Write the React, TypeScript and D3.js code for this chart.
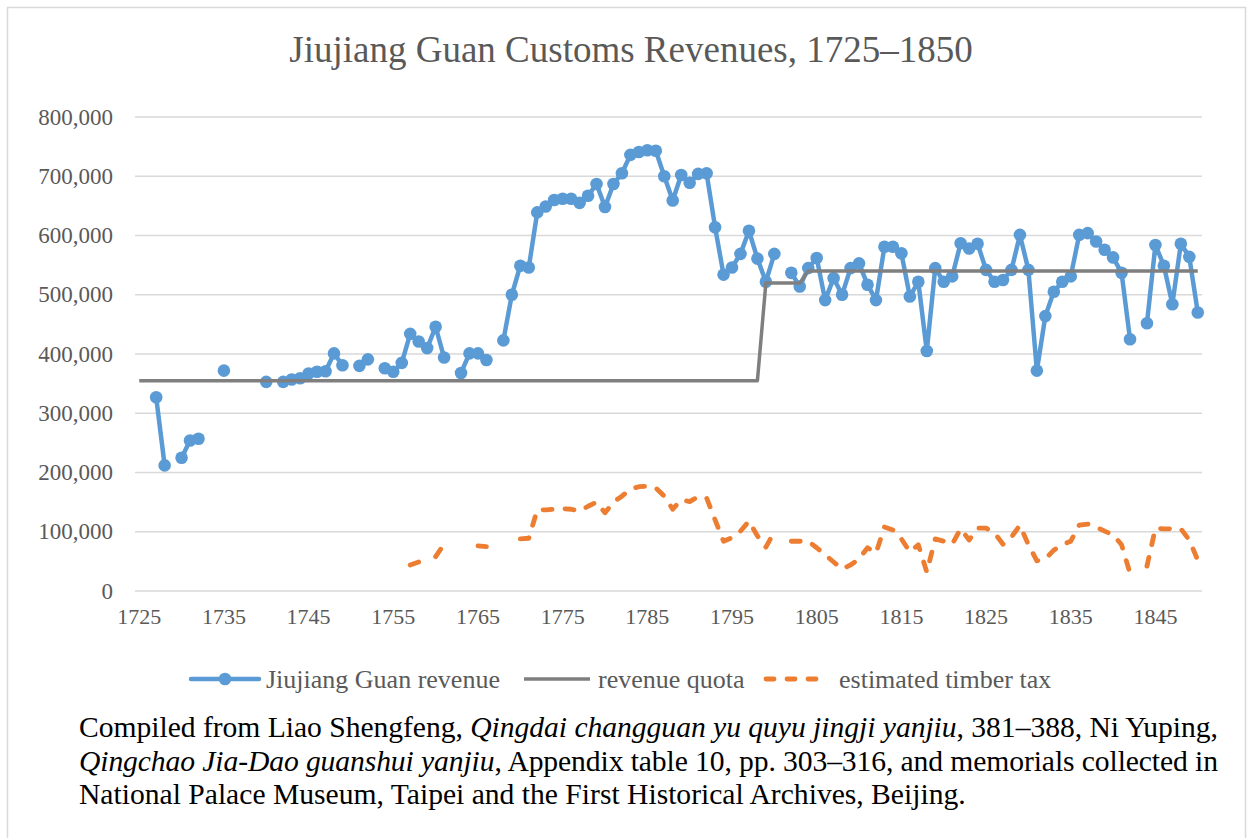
import React from 'react';
import * as d3 from 'd3';

// ---------- data ----------
const years: number[] = d3.range(1725, 1851);
const xTickYears: number[] = [1725, 1735, 1745, 1755, 1765, 1775, 1785, 1795, 1805, 1815, 1825, 1835, 1845];
const yTicks: number[] = [0, 100000, 200000, 300000, 400000, 500000, 600000, 700000, 800000];

// Jiujiang Guan revenue (years absent = no data)
const revenueData: [number, number][] = [
  [1727, 327000], [1728, 212000], [1730, 225000], [1731, 254000], [1732, 257000],
  [1735, 372000], [1740, 353000], [1742, 353000], [1743, 357000], [1744, 359000],
  [1745, 367000], [1746, 370000], [1747, 371000], [1748, 401000], [1749, 381000],
  [1751, 380000], [1752, 391000], [1754, 376000], [1755, 370000], [1756, 385000],
  [1757, 434000], [1758, 421000], [1759, 410000], [1760, 446000], [1761, 394000],
  [1763, 368000], [1764, 401000], [1765, 401000], [1766, 390000], [1768, 423000],
  [1769, 500000], [1770, 549000], [1771, 546000], [1772, 639000], [1773, 649000],
  [1774, 660000], [1775, 662000], [1776, 662000], [1777, 655000], [1778, 667000],
  [1779, 687000], [1780, 648000], [1781, 687000], [1782, 705000], [1783, 736000],
  [1784, 741000], [1785, 744000], [1786, 743000], [1787, 700000], [1788, 659000],
  [1789, 702000], [1790, 689000], [1791, 704000], [1792, 705000], [1793, 614000],
  [1794, 534000], [1795, 546000], [1796, 569000], [1797, 608000], [1798, 561000],
  [1799, 522000], [1800, 569000], [1802, 537000], [1803, 514000], [1804, 545000],
  [1805, 562000], [1806, 491000], [1807, 528000], [1808, 500000], [1809, 545000],
  [1810, 553000], [1811, 517000], [1812, 491000], [1813, 581000], [1814, 581000],
  [1815, 570000], [1816, 497000], [1817, 522000], [1818, 405000], [1819, 545000],
  [1820, 522000], [1821, 531000], [1822, 587000], [1823, 578000], [1824, 586000],
  [1825, 542000], [1826, 522000], [1827, 525000], [1828, 542000], [1829, 601000],
  [1830, 542000], [1831, 372000], [1832, 464000], [1833, 505000], [1834, 522000],
  [1835, 531000], [1836, 601000], [1837, 604000], [1838, 590000], [1839, 576000],
  [1840, 563000], [1841, 537000], [1842, 425000], [1844, 452000], [1845, 584000],
  [1846, 549000], [1847, 484000], [1848, 586000], [1849, 564000], [1850, 470000],
];

// revenue quota, by period
const quotaPeriods: { from: number; to: number; value: number }[] = [
  { from: 1725, to: 1798, value: 355000 },
  { from: 1799, to: 1803, value: 520000 },
  { from: 1804, to: 1850, value: 540000 },
];

// estimated timber tax (years absent = no data)
const timberData: [number, number][] = [
  [1757, 44000], [1758, 49000], [1760, 58000], [1761, 79000], [1765, 76000], [1766, 75000],
  [1770, 88000], [1771, 89000], [1772, 137000], [1773, 137000], [1774, 138000], [1775, 139000],
  [1776, 138000], [1777, 135000], [1778, 143000], [1779, 150000], [1780, 132000], [1781, 150000],
  [1782, 160000], [1783, 172000], [1784, 176000], [1785, 177000], [1786, 174000], [1787, 160000],
  [1788, 138000], [1789, 154000], [1790, 151000], [1791, 159000], [1792, 157000], [1793, 120000],
  [1794, 84000], [1795, 90000], [1796, 101000], [1797, 118000], [1798, 93000], [1799, 74000],
  [1800, 100000], [1802, 84000], [1803, 84000], [1804, 84000], [1805, 73000], [1806, 61000],
  [1807, 49000], [1808, 37000], [1809, 44000], [1810, 54000], [1811, 73000], [1812, 64000],
  [1813, 108000], [1814, 103000], [1815, 88000], [1816, 66000], [1817, 78000], [1818, 32000],
  [1819, 88000], [1820, 84000], [1821, 79000], [1822, 105000], [1823, 86000], [1824, 106000],
  [1825, 106000], [1826, 98000], [1827, 79000], [1828, 91000], [1829, 111000], [1830, 78000],
  [1831, 51000], [1832, 54000], [1833, 69000], [1834, 78000], [1835, 84000], [1836, 111000],
  [1837, 113000], [1838, 108000], [1839, 101000], [1840, 95000], [1841, 78000], [1842, 30000],
  [1844, 42000], [1845, 106000], [1846, 105000], [1847, 105000], [1848, 105000], [1849, 86000],
  [1850, 52000],
];

const seriesNames = ['Jiujiang Guan revenue', 'revenue quota', 'estimated timber tax'];
const titleText = 'Jiujiang Guan Customs Revenues, 1725\u20131850';

// ---------- styles ----------
const FONT = '"Liberation Serif", "Times New Roman", serif';
const BLUE = '#5b9bd5';
const GREY = '#7f7f7f';
const ORANGE = '#ed7d31';
const TEXT = '#595959';
const GRID = '#d9d9d9';

type Pt = { yr: number; v: number | null };

export default function App() {
  const x = d3.scaleBand<number>().domain(years).range([135, 1202]).padding(0);
  const cx = (yr: number) => (x(yr) as number) + x.bandwidth() / 2;
  const y = d3.scaleLinear().domain([0, 800000]).range([591, 117]);

  const revMap = new Map(revenueData);
  const timMap = new Map(timberData);
  const revSeries: Pt[] = years.map((yr) => ({ yr, v: revMap.has(yr) ? (revMap.get(yr) as number) : null }));
  const timSeries: Pt[] = years.map((yr) => ({ yr, v: timMap.has(yr) ? (timMap.get(yr) as number) : null }));
  const quotaSeries: Pt[] = years.map((yr) => {
    const p = quotaPeriods.find((q) => yr >= q.from && yr <= q.to);
    return { yr, v: p ? p.value : null };
  });

  const line = d3
    .line<Pt>()
    .defined((d) => d.v != null)
    .x((d) => cx(d.yr))
    .y((d) => y(d.v as number));

  const fmt = d3.format(',');

  return (
    <svg
      width={1253}
      height={838}
      style={{ position: 'absolute', left: 0, top: 0, display: 'block', background: '#fff' }}
      fontFamily={FONT}
    >
      <rect x={0} y={0} width={1253} height={838} fill="#fff" />
      <rect x={7.5} y={7.5} width={1238} height={860} fill="none" stroke={GRID} strokeWidth={1.5} />

      <text x={631} y={62} textAnchor="middle" fontSize={37} fill={TEXT}>
        {titleText}
      </text>

      {/* gridlines */}
      {yTicks.map((t) => (
        <line key={t} x1={135} x2={1202} y1={y(t)} y2={y(t)} stroke={GRID} strokeWidth={1.5} />
      ))}
      {/* y labels */}
      {yTicks.map((t) => (
        <text key={'yl' + t} x={113} y={y(t) + 7.5} textAnchor="end" fontSize={23} fill={TEXT}>
          {fmt(t)}
        </text>
      ))}
      {/* x labels */}
      {xTickYears.map((yr) => (
        <text key={'xl' + yr} x={cx(yr)} y={624} textAnchor="middle" fontSize={22} fill={TEXT}>
          {yr}
        </text>
      ))}

      {/* revenue */}
      <path d={line(revSeries) || ''} fill="none" stroke={BLUE} strokeWidth={4.5} strokeLinejoin="round" strokeLinecap="round" />
      {revSeries
        .filter((d) => d.v != null)
        .map((d) => (
          <circle key={'m' + d.yr} cx={cx(d.yr)} cy={y(d.v as number)} r={6.3} fill={BLUE} />
        ))}
      {/* quota */}
      <path d={line(quotaSeries) || ''} fill="none" stroke={GREY} strokeWidth={3.5} strokeLinejoin="round" />
      {/* timber */}
      <path
        d={line(timSeries) || ''}
        fill="none"
        stroke={ORANGE}
        strokeWidth={4.8}
        strokeDasharray="9,13"
        strokeLinecap="round"
        strokeLinejoin="round"
      />

      {/* legend */}
      <g>
        <line x1={191} x2={259} y1={679} y2={679} stroke={BLUE} strokeWidth={4.5} strokeLinecap="round" />
        <circle cx={225} cy={679} r={6.3} fill={BLUE} />
        <text x={266} y={688} fontSize={26} fill={TEXT}>{seriesNames[0]}</text>
        <line x1={524} x2={590} y1={679} y2={679} stroke={GREY} strokeWidth={3.5} />
        <text x={598} y={688} fontSize={26} fill={TEXT}>{seriesNames[1]}</text>
        <line x1={766} x2={826} y1={679} y2={679} stroke={ORANGE} strokeWidth={4.8} strokeDasharray="8,13" strokeLinecap="round" />
        <text x={839} y={688} fontSize={26} fill={TEXT}>{seriesNames[2]}</text>
      </g>

      {/* caption */}
      <g fontSize={29.6} fill="#000">
        <text x={79} y={737} textLength={1139} lengthAdjust="spacing">
          Compiled from Liao Shengfeng, <tspan fontStyle="italic">Qingdai changguan yu quyu jingji yanjiu</tspan>, 381{'\u2013'}388, Ni Yuping,
        </text>
        <text x={79} y={771} textLength={1139} lengthAdjust="spacing">
          <tspan fontStyle="italic">Qingchao Jia-Dao guanshui yanjiu</tspan>, Appendix table 10, pp. 303{'\u2013'}316, and memorials collected in
        </text>
        <text x={79} y={804}>
          National Palace Museum, Taipei and the First Historical Archives, Beijing.
        </text>
      </g>
    </svg>
  );
}
